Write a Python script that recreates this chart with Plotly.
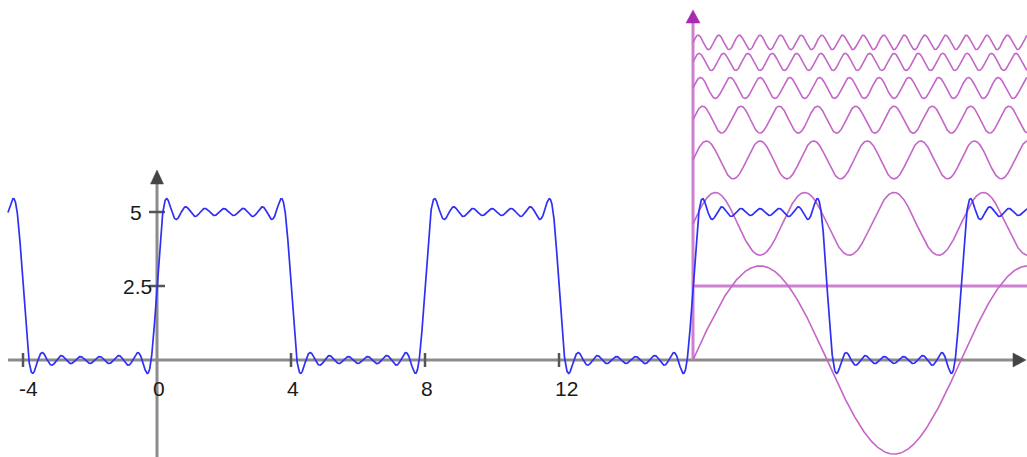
import numpy as np
import plotly.graph_objects as go

# ---- data ----
period = 8
dc_level = 2.5
harmonics = [1, 3, 5, 7, 9, 11, 13]
amplitudes = [3.18, 1.06, 0.64, 0.455, 0.354, 0.289, 0.245]
component_offsets = [0.0, 4.6, 6.76, 8.12, 9.19, 10.07, 10.73]
component_start = 16
x_tick_values = [-4, 0, 4, 8, 12]
x_tick_labels = ["-4", "0", "4", "8", "12"]
y_tick_values = [2.5, 5]
y_tick_labels = ["2.5", "5"]

# ---- view ----
W, H = 1027, 457
XMIN, XMAX = -4.687, 25.97
YMIN, YMAX = -3.277, 12.162
SX = W / (XMAX - XMIN)
SY = H / (YMAX - YMIN)

BLUE = "#2f2ff5"
MAG = "#c466c8"
MAG_AXIS = "#cc80cf"
MAG_HEAD = "#a82aae"
GRAY = "#8c8c8c"
DARK = "#444444"
FONT = dict(family="Liberation Sans, Arial", size=21, color="#1a1a1a")

fig = go.Figure()

def line(x0, y0, x1, y1, color, width):
    fig.add_shape(type="line", x0=x0, y0=y0, x1=x1, y1=y1, xref="x", yref="y",
                  line=dict(color=color, width=width), layer="below")

def tri(tipx, tipy, direction, length_px, width_px, color):
    if direction == "right":
        hw = width_px / 2 / SY
        p = f"M {tipx} {tipy} L {tipx - length_px/SX} {tipy + hw} L {tipx - length_px/SX} {tipy - hw} Z"
    else:
        hw = width_px / 2 / SX
        p = f"M {tipx} {tipy} L {tipx + hw} {tipy - length_px/SY} L {tipx - hw} {tipy - length_px/SY} Z"
    fig.add_shape(type="path", path=p, xref="x", yref="y", fillcolor=color,
                  line=dict(color=color, width=0.5), layer="above")

# gray axes
line(-4.45, 0, XMAX - 12 / SX, 0, GRAY, 3)
line(0, YMIN, 0, (360 - 183) / SY, GRAY, 3)
tri(XMAX - 1 / SX, 0, "right", 13, 14, DARK)
tri(0, (360 - 170) / SY, "up", 14, 13, DARK)

# ticks
for xv in x_tick_values:
    if xv != 0:
        line(xv, -7 / SY, xv, 7 / SY, "#555555", 2.5)
for yv in y_tick_values:
    line(-8 / SX, yv, 8 / SX, yv, "#555555", 2.5)

# tick labels
for xv, lab in zip(x_tick_values, x_tick_labels):
    fig.add_annotation(x=xv, y=0, text=lab, showarrow=False, xanchor="left", yanchor="middle",
                       xshift=-6, yshift=-28, font=FONT)
yl_shift = {"2.5": -3, "5": -13}
for yv, lab in zip(y_tick_values, y_tick_labels):
    fig.add_annotation(x=0, y=yv, text=lab, showarrow=False, xanchor="right", yanchor="middle",
                       xshift=yl_shift[lab], yshift=0, font=FONT)

# magenta component axis and DC line
line(component_start, 0, component_start, (360 - 20) / SY, MAG_AXIS, 3)
tri(component_start, (360 - 10) / SY, "up", 13, 14, MAG_HEAD)
line(component_start, dc_level, XMAX, dc_level, MAG_AXIS, 3)

# components
xc = np.linspace(component_start, XMAX, 2500)
for k, a, off in zip(harmonics, amplitudes, component_offsets):
    fig.add_trace(go.Scatter(x=xc, y=off + a * np.sin(2 * np.pi * k * xc / period), mode="lines",
                             line=dict(color=MAG, width=1.6), hoverinfo="skip"))

# partial Fourier sum
xb = np.linspace(-4.45, XMAX, 6000)
yb = dc_level + sum(a * np.sin(2 * np.pi * k * xb / period) for k, a in zip(harmonics, amplitudes))
fig.add_trace(go.Scatter(x=xb, y=yb, mode="lines", line=dict(color=BLUE, width=1.7), hoverinfo="skip"))

fig.update_layout(
    width=W, height=H, margin=dict(l=0, r=0, t=0, b=0),
    paper_bgcolor="white", plot_bgcolor="white", showlegend=False,
    xaxis=dict(range=[XMIN, XMAX], visible=False, fixedrange=True),
    yaxis=dict(range=[YMIN, YMAX], visible=False, fixedrange=True),
)
fig.write_html("out.html")
